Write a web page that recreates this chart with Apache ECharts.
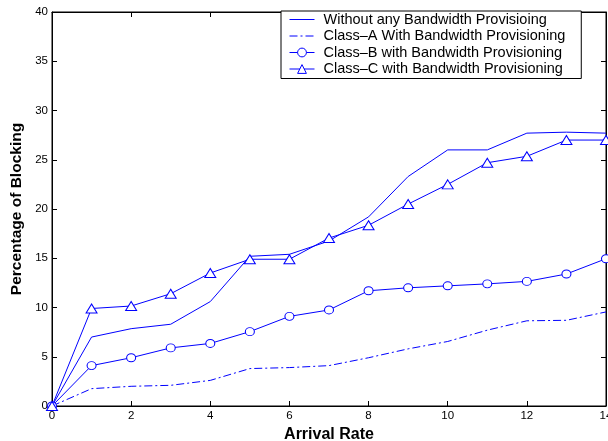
<!DOCTYPE html>
<html>
<head>
<meta charset="utf-8">
<script src="https://cdn.jsdelivr.net/npm/echarts@6/dist/echarts.min.js"></script>
<style>html,body{margin:0;padding:0;background:#fff;}#c{width:608px;height:441px;}</style>
</head>
<body>
<div id="c"></div>
<script>
const arrivalRate = [0,1,2,3,4,5,6,7,8,9,10,11,12,13,14];
const withoutProvisioning = [0,7.0,7.85,8.3,10.6,15.2,15.4,16.75,19.2,23.3,26.0,26.0,27.7,27.8,27.7];
const classA = [0,1.76,2.0,2.1,2.6,3.8,3.9,4.1,4.9,5.8,6.55,7.7,8.65,8.7,9.55];
const classB = [0,4.1,4.9,5.9,6.35,7.55,9.1,9.75,11.7,12.0,12.2,12.4,12.65,13.4,14.95];
const classC = [0,9.9,10.15,11.4,13.5,14.9,14.9,17.05,18.35,20.5,22.5,24.7,25.35,27.0,27.0];
const seriesNames = [
  'Without any Bandwidth Provisioing',
  'Class\u2013A With Bandwidth Provisioning',
  'Class\u2013B with Bandwidth Provisioning',
  'Class\u2013C with Bandwidth Provisioning'
];
const xTicks = {min:0,max:14,interval:2};
const yTicks = {min:0,max:40,interval:5};

const blue = '#0000ff';
const font = 'Liberation Sans, Arial, Helvetica, sans-serif';
function pairs(v){ return arrivalRate.map((x,i)=>[x,v[i]]); }
function hidden(){ return {color:'rgba(0,0,0,0)', borderColor:'rgba(0,0,0,0)', borderWidth:0, opacity:0}; }
function hollow(){ return {color:'#fff', borderColor:blue, borderWidth:1}; }
const dashDot = [8,3,2,3];

const chart = echarts.init(document.getElementById('c'), null, {renderer:'canvas'});
const tickStyle = {show:true, inside:true, length:5, lineStyle:{color:'#000', width:1}};
chart.setOption({
  animation:false,
  backgroundColor:'#fff',
  textStyle:{fontFamily:font},
  grid:{left:52,right:2,top:12,bottom:35,outerBoundsMode:'none',containLabel:false,
        show:true,borderColor:'#000',borderWidth:1,backgroundColor:'#fff'},
  legend:{
    orient:'vertical', left:281, top:11,
    backgroundColor:'#fff', borderColor:'#000', borderWidth:1, borderRadius:0,
    padding:[1,16,2,8], itemGap:1.5, itemWidth:25, itemHeight:11,
    lineStyle:{width:1, color:blue},
    textStyle:{fontFamily:font, fontSize:14.5, color:'#000', padding:[0,0,0,4]},
    data:[
      {name:seriesNames[0], itemStyle:hidden(), lineStyle:{width:1,color:blue,type:[25,0]}},
      {name:seriesNames[1], itemStyle:hidden(), lineStyle:{width:1,color:blue,type:dashDot}},
      {name:seriesNames[2], itemStyle:hollow(), lineStyle:{width:1,color:blue,type:'solid'}},
      {name:seriesNames[3], itemStyle:hollow(), lineStyle:{width:1,color:blue,type:'solid'}}
    ]
  },
  xAxis:[{
    type:'value', min:xTicks.min, max:xTicks.max, interval:xTicks.interval,
    name:'Arrival Rate', nameLocation:'middle', nameGap:14,
    nameTextStyle:{fontFamily:font, fontSize:16, fontWeight:'bold', color:'#000'},
    axisLine:{show:true, onZero:false, lineStyle:{color:'#000'}},
    axisTick:tickStyle,
    axisLabel:{fontFamily:font, fontSize:11.5, color:'#000', margin:4, hideOverlap:false},
    splitLine:{show:false}
  },{
    type:'value', position:'top', min:xTicks.min, max:xTicks.max, interval:xTicks.interval,
    axisLine:{show:true, onZero:false, lineStyle:{color:'#000'}},
    axisTick:tickStyle, axisLabel:{show:false}, splitLine:{show:false}
  }],
  yAxis:[{
    type:'value', min:yTicks.min, max:yTicks.max, interval:yTicks.interval,
    name:'Percentage of Blocking', nameLocation:'middle', nameGap:24,
    nameTextStyle:{fontFamily:font, fontSize:15.5, fontWeight:'bold', color:'#000'},
    axisLine:{show:true, onZero:false, lineStyle:{color:'#000'}},
    axisTick:tickStyle,
    axisLabel:{fontFamily:font, fontSize:11.5, color:'#000', margin:4},
    splitLine:{show:false}
  },{
    type:'value', position:'right', min:yTicks.min, max:yTicks.max, interval:yTicks.interval,
    axisLine:{show:true, onZero:false, lineStyle:{color:'#000'}},
    axisTick:tickStyle, axisLabel:{show:false}, splitLine:{show:false}
  }],
  series:[
    {name:seriesNames[0], type:'line', data:pairs(withoutProvisioning), symbol:'none',
     lineStyle:{color:blue,width:1}, itemStyle:{color:blue}},
    {name:seriesNames[1], type:'line', data:pairs(classA), symbol:'none',
     lineStyle:{color:blue,width:1,type:dashDot}, itemStyle:{color:blue}},
    {name:seriesNames[2], type:'line', data:pairs(classB), symbol:'circle', symbolSize:[9,8],
     lineStyle:{color:blue,width:1}, itemStyle:{color:'#fff',borderColor:blue,borderWidth:1}},
    {name:seriesNames[3], type:'line', data:pairs(classC), symbol:'triangle', symbolSize:[11,9],
     lineStyle:{color:blue,width:1}, itemStyle:{color:'#fff',borderColor:blue,borderWidth:1}}
  ]
});
</script>
</body>
</html>
